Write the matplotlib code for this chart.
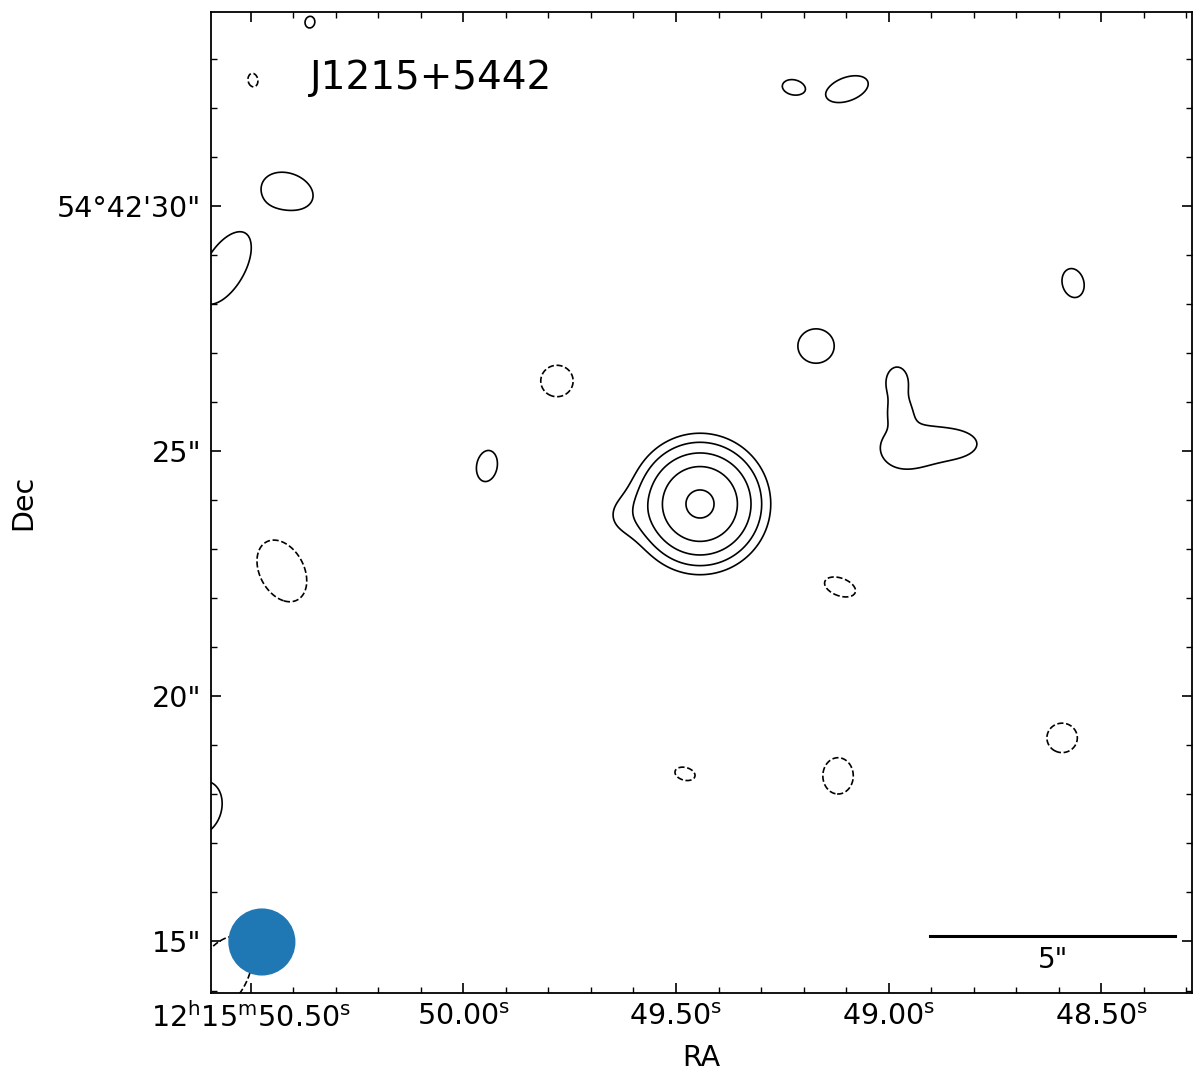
import matplotlib
matplotlib.use("Agg")
import matplotlib.pyplot as plt
import numpy as np
from matplotlib.patches import Ellipse
from matplotlib.ticker import FixedLocator, MultipleLocator

# field centre (RA seconds past 12h15m, Dec arcsec past 54d42m)
ra_c, dec_c = 49.44, 23.95
half = 10.0  # arcsec
as_per_s = 15 * np.cos(np.radians(54 + 42 / 60.))

# emission components (peak in units of rms, sizes in arcsec, pa deg from +x)
comp_ra = [49.4435, 49.627, 50.361, 50.495, 50.411, 50.561, 49.2247, 49.0976,
           48.566, 49.1706, 48.980, 48.973, 48.973, 48.860, 49.9447, 49.780,
           50.427, 49.1141, 49.4788, 49.1188, 48.5918, 50.615, 50.568]
comp_dec = [23.920, 23.675, 33.743, 32.561, 30.298, 28.729, 32.418, 32.377,
            28.424, 27.140, 26.406, 25.795, 25.020, 25.143, 24.694, 26.427,
            22.555, 22.228, 18.418, 18.377, 19.151, 17.725, 14.321]
comp_amp = [53.8, 2.65, 4.95, -4.95, 4.95, 4.95, 4.95, 4.95,
            4.95, 4.95, 4.6, 3.4, 3.0, 3.8, 4.95, -4.95,
            -4.95, -4.95, -4.95, -4.95, -4.95, 4.95, -4.95]
comp_smaj = [0.60, 0.38, 0.12, 0.14, 0.51, 0.82, 0.22, 0.45,
             0.30, 0.37, 0.33, 0.22, 0.45, 0.85, 0.32, 0.33,
             0.67, 0.33, 0.21, 0.37, 0.31, 0.55, 0.86]
comp_smin = [0.60, 0.38, 0.10, 0.10, 0.35, 0.40, 0.15, 0.24,
             0.22, 0.35, 0.24, 0.20, 0.42, 0.43, 0.21, 0.32,
             0.45, 0.18, 0.13, 0.31, 0.30, 0.40, 0.51]
comp_pa = [0, 0, 80, 100, -20, 60, -10, 20,
           105, 0, 90, 90, 0, 0, 80, 0,
           -62, -20, -15, 90, 0, 75, 60]

levels = [-3, 3, 6, 12, 24, 48]

ra_ticks = [50.50, 50.00, 49.50, 49.00, 48.50]
ra_labels = [r'$12^{\mathrm{h}}15^{\mathrm{m}}50.50^{\mathrm{s}}$', r'$50.00^{\mathrm{s}}$',
             r'$49.50^{\mathrm{s}}$', r'$49.00^{\mathrm{s}}$', r'$48.50^{\mathrm{s}}$']
dec_ticks = [15, 20, 25, 30]
dec_labels = ['15"', '20"', '25"', '54°42\'30"']

beam_ra, beam_dec, beam_d = 50.474, 14.99, 1.34
scalebar_len = 5.0

# build the map
ra = np.linspace(ra_c + 1.25, ra_c - 1.25, 600)
dec = np.linspace(dec_c - 10.8, dec_c + 10.8, 600)
RA, DEC = np.meshgrid(ra, dec)
img = np.zeros_like(RA)
for r0, d0, a, sj, sn, pa in zip(comp_ra, comp_dec, comp_amp, comp_smaj, comp_smin, comp_pa):
    dx = -(RA - r0) * as_per_s
    dy = DEC - d0
    t = np.radians(pa)
    u = dx * np.cos(t) + dy * np.sin(t)
    v = -dx * np.sin(t) + dy * np.cos(t)
    img += a * np.exp(-0.5 * ((u / sj) ** 2 + (v / sn) ** 2))

fig = plt.figure(figsize=(12, 10.79), dpi=100)
ax = fig.add_axes([211 / 1200, 86 / 1079, 981 / 1200, 981 / 1079])
ax.contour(RA, DEC, img, levels=levels, colors='k', linewidths=1.2,
           negative_linestyles='dashed')

ax.set_xlim(ra_c + half / as_per_s, ra_c - half / as_per_s)
ax.set_ylim(dec_c - half, dec_c + half)

# beam
ax.add_patch(Ellipse((beam_ra, beam_dec), beam_d / as_per_s, beam_d,
                     color='#1f77b4', zorder=5))

# scale bar
x1 = 48.902
x2 = x1 - scalebar_len / as_per_s
ax.plot([x1, x2], [15.12, 15.12], color='k', lw=2.2)
ax.text((x1 + x2) / 2, 14.62, '5"', ha='center', va='center', fontsize=20)

ax.text(50.361, 32.60, 'J1215+5442', ha='left', va='center', fontsize=28)

ax.xaxis.set_major_locator(FixedLocator(ra_ticks))
ax.set_xticklabels(ra_labels)
ax.xaxis.set_minor_locator(MultipleLocator(0.1))
ax.yaxis.set_major_locator(FixedLocator(dec_ticks))
ax.set_yticklabels(dec_labels)
ax.yaxis.set_minor_locator(MultipleLocator(1))
ax.tick_params(which='both', direction='in', top=True, right=True, labelsize=20.5)
ax.tick_params(which='major', length=7, width=1.2, pad=7)
ax.tick_params(which='minor', length=4, width=1.0)
for s in ax.spines.values():
    s.set_linewidth(1.3)

ax.set_xlabel('RA', fontsize=20.5, labelpad=8)
ax.set_ylabel('Dec', fontsize=20.5, labelpad=14)

fig.savefig('out.png', dpi=100)
